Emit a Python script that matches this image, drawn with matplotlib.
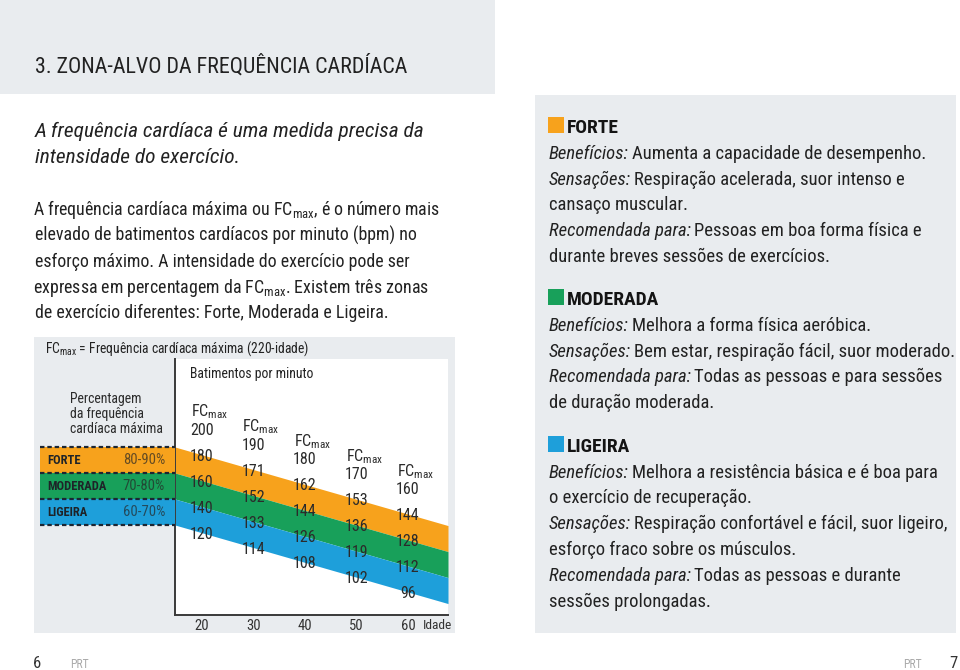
import matplotlib
matplotlib.use('Agg')
import matplotlib.pyplot as plt
from matplotlib import font_manager
from matplotlib.patches import Rectangle
import numpy as np

# ---------------- data ----------------
ages = [20, 30, 40, 50, 60]
age_ticks = ['20', '30', '40', '50', '60']
fc_max = [200, 190, 180, 170, 160]
bpm_90 = [180, 171, 162, 153, 144]
bpm_80 = [160, 152, 144, 136, 128]
bpm_70 = [140, 133, 126, 119, 112]
bpm_60 = [120, 114, 108, 102, 96]
zone_names = ['FORTE', 'MODERADA', 'LIGEIRA']
zone_ranges = ['80-90%', '70-80%', '60-70%']
zone_upper = [90, 80, 70]
zone_lower = [80, 70, 60]
zone_colors = ['#f7a21c', '#18a05a', '#1e9fda']

# ---------------- fonts ----------------
names = {f.name for f in font_manager.fontManager.ttflist}
cond = None
for cand in ['Liberation Sans Narrow', 'Roboto Condensed', 'Open Sans Condensed', 'Noto Sans Condensed']:
    if cand in names:
        cond = cand
        break
if cond is None:
    cond = 'Liberation Sans' if 'Liberation Sans' in names else 'DejaVu Sans'
plt.rcParams['font.family'] = [cond, 'DejaVu Sans']
plt.rcParams['font.stretch'] = 'condensed'
plt.rcParams['mathtext.fontset'] = 'custom'
plt.rcParams['mathtext.rm'] = cond
plt.rcParams['mathtext.it'] = cond + ':italic'
plt.rcParams['mathtext.bf'] = cond + ':bold'

DARK = '#222222'
PANEL = '#e9ecef'
W, H = 960, 670
fig = plt.figure(figsize=(W / 100, H / 100), dpi=100)
fig.patch.set_facecolor('white')


def px_axes(x0, y0, x1, y1, **kw):
    return fig.add_axes([x0 / W, 1 - y1 / H, (x1 - x0) / W, (y1 - y0) / H], **kw)


# background panels
bg = fig.add_axes([0, 0, 1, 1], zorder=0)
bg.set_xlim(0, W)
bg.set_ylim(H, 0)
bg.axis('off')
for (x, y, w, h) in [(0, 0, 495, 94), (34, 337, 421, 296), (535, 95, 421, 538)]:
    bg.add_patch(Rectangle((x, y), w, h, facecolor=PANEL, edgecolor='none'))

# ---------------- chart ----------------
X0, X1, Y0, Y1 = 175, 448, 359, 615
PX_PER_YEAR = 5.15
AGE_PX0 = 202
age_left = ages[0] - (AGE_PX0 - X0) / PX_PER_YEAR
age_right = ages[0] + (X1 - AGE_PX0) / PX_PER_YEAR
PX_PER_PCT = 2.6
DRIFT = 0.57


def ypos(pct, age):
    return pct - DRIFT * np.asarray(age, dtype=float)


ytop = ypos(zone_upper[0], age_left) + (447 - Y0) / PX_PER_PCT
ybot = ytop - (Y1 - Y0) / PX_PER_PCT

ax = px_axes(X0, Y0, X1, Y1, zorder=1)
ax.set_facecolor('white')
ax.set_xlim(age_left, age_right)
ax.set_ylim(ybot, ytop)
xx = np.array([age_left, age_right])
for lo, hi, c in zip(zone_lower, zone_upper, zone_colors):
    ax.fill_between(xx, ypos(lo, xx), ypos(hi, xx), color=c, lw=0)
for s in ['top', 'right']:
    ax.spines[s].set_visible(False)
for s in ['left', 'bottom']:
    ax.spines[s].set_color('#3a3a3a')
    ax.spines[s].set_linewidth(1.4)
ax.set_yticks([])
ax.set_xticks(ages)
ax.set_xticklabels(age_ticks)
ax.tick_params(axis='x', length=0, pad=3, labelsize=10.5, labelcolor='#333333')

levels = [fc_max, bpm_90, bpm_80, bpm_70, bpm_60]
for i, age in enumerate(ages):
    for series in levels:
        v = series[i]
        pct = 100.0 * v / fc_max[i]
        ax.text(age, ypos(pct, age), str(v), ha='center', va='center_baseline',
                fontsize=11.5, color='#2b2b2b', clip_on=False)
    ax.annotate(r'FC$_{\mathrm{max}}$', xy=(age, ypos(100, age)), xytext=(-11, 19),
                textcoords='offset pixels', ha='left', va='center_baseline',
                fontsize=11.5, color='#2b2b2b', annotation_clip=False)

# left zone legend bands
axl = px_axes(40, Y0, X0, Y1, zorder=1)
axl.set_xlim(0, X0 - 40)
axl.set_ylim(ybot, ytop)
axl.axis('off')
for name, rng, lo, hi, c in zip(zone_names, zone_ranges, zone_lower, zone_upper, zone_colors):
    axl.axhspan(ypos(lo, age_left), ypos(hi, age_left), color=c, lw=0)
    ym = ypos((lo + hi) / 2, age_left)
    axl.text(7, ym, name, fontweight='bold', fontsize=9, color='#1e2328', va='center', ha='left')
    axl.text(125, ym, rng, fontsize=10.5, color='#262626', alpha=0.7, va='center', ha='right')
bounds = zone_upper + [zone_lower[-1]]
axl.hlines([float(ypos(b, age_left)) for b in bounds], 0, X0 - 40, colors='#1c2633',
           linestyles=(0, (2.0, 1.3)), lw=1.6)

# ---------------- text overlay ----------------
tx = fig.add_axes([0, 0, 1, 1], zorder=5)
tx.set_xlim(0, W)
tx.set_ylim(H, 0)
tx.axis('off')
renderer = fig.canvas.get_renderer()

tx.text(35, 73, '3. ZONA-ALVO DA FREQUÊNCIA CARDÍACA', fontsize=15.8, color=DARK, va='baseline')
for y, s in [(137, 'A frequência cardíaca é uma medida precisa da'), (163, 'intensidade do exercício.')]:
    tx.text(35, y, s, fontsize=15.4, style='italic', color=DARK, va='baseline')
body = [
    (215, r'A frequência cardíaca máxima ou FC$_{\mathrm{max}}$, é o número mais'),
    (241, 'elevado de batimentos cardíacos por minuto (bpm) no'),
    (267, 'esforço máximo. A intensidade do exercício pode ser'),
    (293, r'expressa em percentagem da FC$_{\mathrm{max}}$. Existem três zonas'),
    (318, 'de exercício diferentes: Forte, Moderada e Ligeira.'),
]
for y, s in body:
    dx = -2 if '$' in s else 0
    tx.text(35 + dx, y, s, fontsize=12.9, color=DARK, va='baseline')

tx.text(45, 353, r'FC$_{\mathrm{max}}$ = Frequência cardíaca máxima (220-idade)', fontsize=9.8,
        color=DARK, va='baseline')
tx.text(190, 378, 'Batimentos por minuto', fontsize=9.9, color=DARK, va='baseline')
for y, s in [(403, 'Percentagem'), (418, 'da frequência'), (433, 'cardíaca máxima')]:
    tx.text(70, y, s, fontsize=9.9, color='#2b2b2b', va='baseline')
tx.text(423, 629, 'Idade', fontsize=9.6, color='#333333', va='baseline')

# right panel
RS = 13.4
blocks = [
    (0, 133, [
        ('Benefícios:', 'Aumenta a capacidade de desempenho.', 159),
        ('Sensações:', 'Respiração acelerada, suor intenso e', 185),
        (None, 'cansaço muscular.', 210),
        ('Recomendada para:', 'Pessoas em boa forma física e', 236),
        (None, 'durante breves sessões de exercícios.', 262),
    ]),
    (1, 305, [
        ('Benefícios:', 'Melhora a forma física aeróbica.', 331),
        ('Sensações:', 'Bem estar, respiração fácil, suor moderado.', 357),
        ('Recomendada para:', 'Todas as pessoas e para sessões', 382),
        (None, 'de duração moderada.', 408),
    ]),
    (2, 452, [
        ('Benefícios:', 'Melhora a resistência básica e é boa para', 478),
        (None, 'o exercício de recuperação.', 503),
        ('Sensações:', 'Respiração confortável e fácil, suor ligeiro,', 529),
        (None, 'esforço fraco sobre os músculos.', 555),
        ('Recomendada para:', 'Todas as pessoas e durante', 581),
        (None, 'sessões prolongadas.', 607),
    ]),
]
inv = tx.transData.inverted()
for zi, hy, lines in blocks:
    tx.add_patch(Rectangle((548, hy - 16), 16, 16, facecolor=zone_colors[zi], edgecolor='none'))
    tx.text(567, hy, zone_names[zi], fontsize=14, fontweight='bold', color='#141414', va='baseline')
    for label, text, y in lines:
        if label:
            t = tx.text(549, y, label, fontsize=RS, style='italic', color=DARK, va='baseline')
            bb = t.get_window_extent(renderer=renderer)
            xe = inv.transform((bb.x1, bb.y0))[0]
            tx.text(xe + 3, y, text, fontsize=RS, color=DARK, va='baseline')
        else:
            tx.text(549, y, text, fontsize=RS, color=DARK, va='baseline')

# footer
tx.text(33, 668, '6', fontsize=12, color='#333333', va='baseline')
tx.text(70, 668, 'PRT', fontsize=8.5, color='#aaaaaa', va='baseline')
tx.text(903, 668, 'PRT', fontsize=8.5, color='#aaaaaa', va='baseline')
tx.text(949, 668, '7', fontsize=12, color='#333333', va='baseline')

fig.savefig('out.png', dpi=100, facecolor='white')
